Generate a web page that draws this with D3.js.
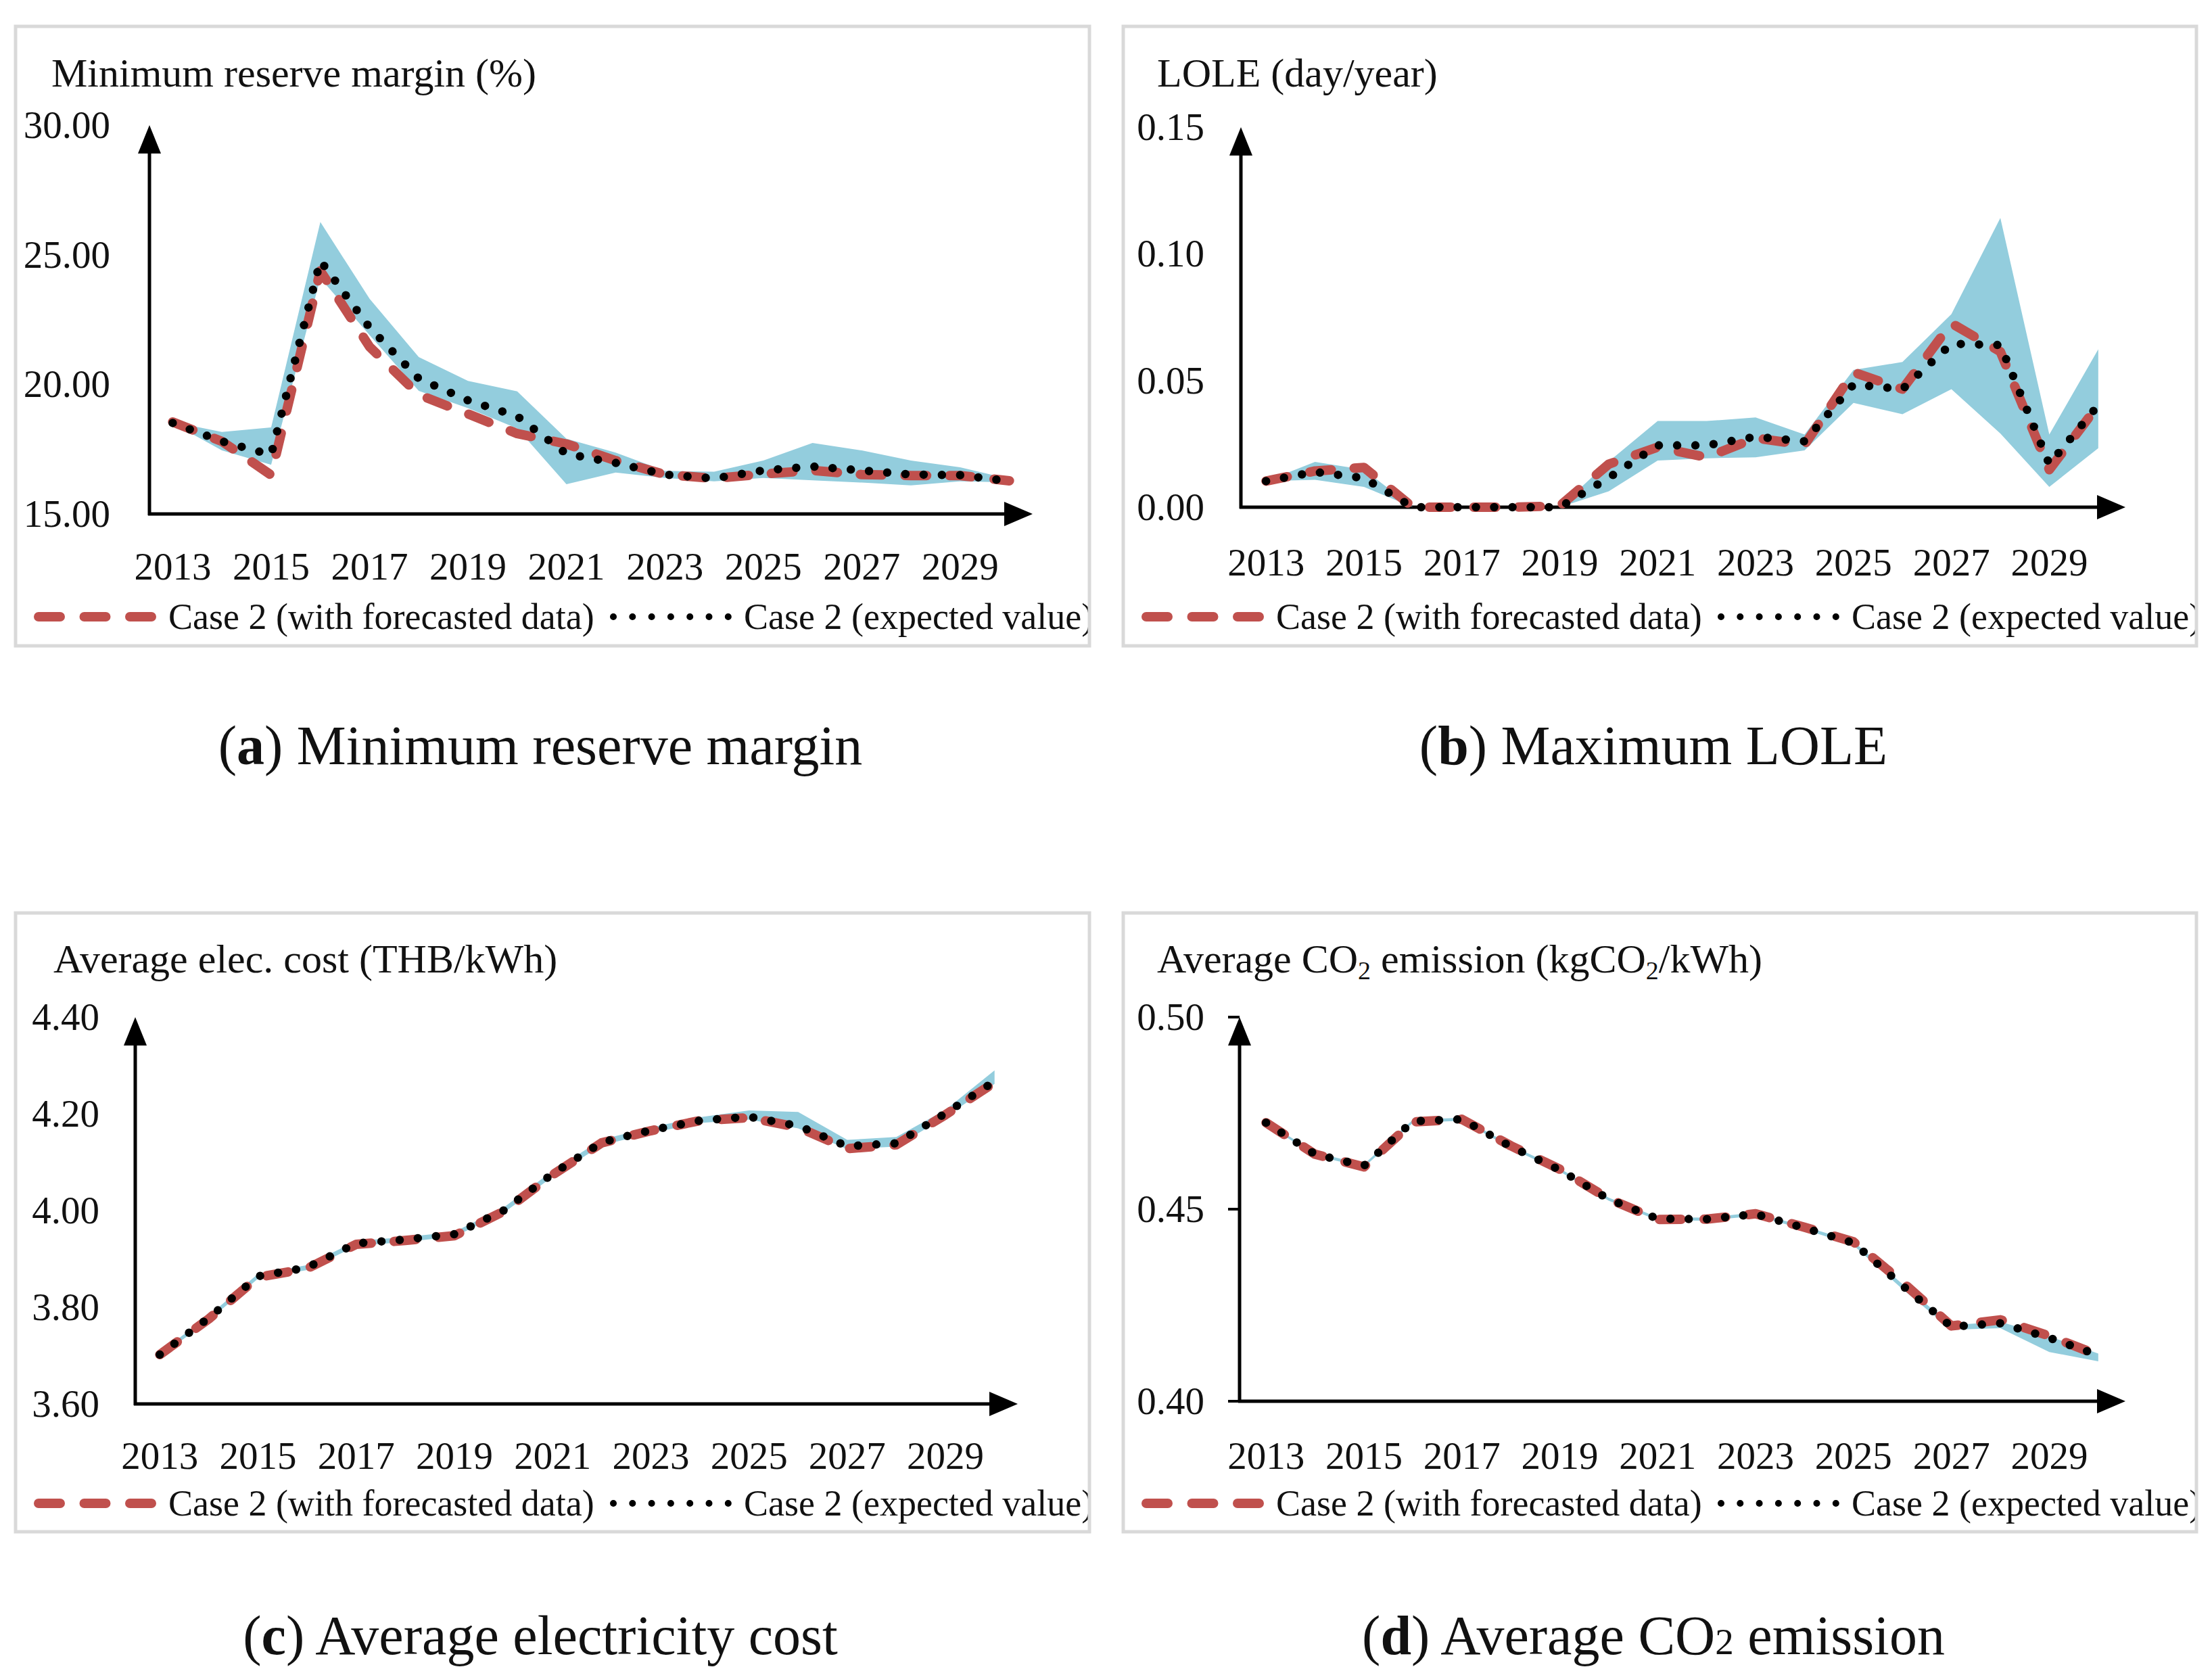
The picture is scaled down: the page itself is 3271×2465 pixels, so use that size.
<!DOCTYPE html>
<html>
<head>
<meta charset="utf-8">
<script src="https://cdn.jsdelivr.net/npm/d3@7"></script>
<style>
  body { margin: 0; background: #fff; }
  text { font-family: "Liberation Serif", "Times New Roman", serif; fill: #111; }
</style>
</head>
<body>
<svg id="chart" width="3271" height="2465"></svg>
<script>
// years on the category axis
const years = d3.range(2013, 2031);
const yearLabels = [2013, 2015, 2017, 2019, 2021, 2023, 2025, 2027, 2029];

// (a) minimum reserve margin (%)
const forecastA = [18.55, 17.80, 16.50, 24.38, 21.45, 19.60, 18.86, 18.10, 17.70, 17.06, 16.52, 16.37, 16.54, 16.68, 16.52, 16.48, 16.48, 16.28];
const expectedA = [18.51, 17.80, 17.28, 24.77, 22.19, 20.22, 19.38, 18.77, 17.32, 16.97, 16.52, 16.37, 16.68, 16.83, 16.68, 16.52, 16.50, 16.26];
const upperA    = [18.55, 18.16, 18.34, 26.26, 23.30, 21.05, 20.13, 19.73, 17.90, 17.37, 16.66, 16.63, 17.06, 17.74, 17.45, 17.06, 16.80, 16.35];
const lowerA    = [18.50, 17.45, 16.90, 24.10, 21.90, 19.75, 19.08, 18.30, 16.15, 16.60, 16.39, 16.26, 16.39, 16.30, 16.21, 16.10, 16.26, 16.22];
const ticksA = [15, 20, 25, 30];

// (b) LOLE (day/year)
const forecastB = [0.0103, 0.0143, 0.0157, 0.0000, 0.0000, 0.0000, 0.0005, 0.0170, 0.0237, 0.0197, 0.0273, 0.0246, 0.0533, 0.0466, 0.0726, 0.0614, 0.0148, 0.0403];
const expectedB = [0.0103, 0.0139, 0.0115, 0.0000, 0.0000, 0.0000, 0.0000, 0.0116, 0.0244, 0.0244, 0.0278, 0.0260, 0.0484, 0.0466, 0.0645, 0.0640, 0.0170, 0.0403];
const upperB    = [0.0103, 0.0179, 0.0148, 0.0000, 0.0000, 0.0000, 0.0000, 0.0180, 0.0340, 0.0340, 0.0354, 0.0287, 0.0542, 0.0573, 0.0762, 0.1142, 0.0287, 0.0623];
const lowerB    = [0.0103, 0.0108, 0.0080, 0.0000, 0.0000, 0.0000, 0.0000, 0.0063, 0.0184, 0.0193, 0.0197, 0.0224, 0.0412, 0.0367, 0.0466, 0.0291, 0.0080, 0.0233];
const ticksB = [0, 0.05, 0.10, 0.15];

// (c) average electricity cost (THB/kWh)
const forecastC = [3.702, 3.776, 3.862, 3.880, 3.930, 3.938, 3.948, 3.998, 4.074, 4.140, 4.165, 4.186, 4.192, 4.172, 4.128, 4.136, 4.198, 4.265];
const expectedC = [3.702, 3.778, 3.864, 3.882, 3.932, 3.940, 3.951, 4.000, 4.076, 4.141, 4.166, 4.186, 4.194, 4.175, 4.133, 4.139, 4.201, 4.267];
const upperC    = [3.706, 3.783, 3.869, 3.887, 3.937, 3.945, 3.956, 4.006, 4.082, 4.147, 4.172, 4.193, 4.207, 4.204, 4.146, 4.152, 4.208, 4.290];
const lowerC    = [3.698, 3.773, 3.859, 3.877, 3.927, 3.935, 3.946, 3.995, 4.070, 4.135, 4.160, 4.181, 4.188, 4.170, 4.127, 4.132, 4.194, 4.262];
const ticksC = [3.6, 3.8, 4.0, 4.2, 4.4];

// (d) average CO2 emission (kgCO2/kWh)
const forecastD = [0.4725, 0.4643, 0.4610, 0.4727, 0.4734, 0.4665, 0.4604, 0.4527, 0.4473, 0.4474, 0.4488, 0.4453, 0.4415, 0.4310, 0.4196, 0.4212, 0.4170, 0.4120];
const expectedD = [0.4725, 0.4643, 0.4613, 0.4729, 0.4734, 0.4663, 0.4602, 0.4526, 0.4475, 0.4474, 0.4487, 0.4451, 0.4412, 0.4301, 0.4194, 0.4203, 0.4165, 0.4120];
const upperD    = [0.4728, 0.4647, 0.4617, 0.4733, 0.4738, 0.4667, 0.4606, 0.4530, 0.4479, 0.4478, 0.4491, 0.4455, 0.4416, 0.4305, 0.4198, 0.4207, 0.4169, 0.4124];
const lowerD    = [0.4722, 0.4639, 0.4609, 0.4725, 0.4730, 0.4659, 0.4598, 0.4522, 0.4471, 0.4470, 0.4483, 0.4447, 0.4406, 0.4292, 0.4186, 0.4190, 0.4128, 0.4104];
const ticksD = [0.40, 0.45, 0.50];

const legendLabels = ['Case 2 (with forecasted data)', 'Case 2 (expected value)'];

const RED = '#C0504D';
const BAND = '#93CDDD';

// layout of the four panels
const panels = [
  { id: 'a', frame: [23, 39, 1588, 916], xr: [219, 1529], yr: [760, 185], axisX: 221, tip: 1527,
    labelRight: 163, title: [76, 128], xBase: 857, legY: 912, tickMarks: false,
    domain: [15, 30], ticks: ticksA, f: forecastA, e: expectedA, hi: upperA, lo: lowerA },
  { id: 'b', frame: [1661, 39, 1587, 916], xr: [1836, 3139], yr: [750, 188], axisX: 1835, tip: 3143,
    labelRight: 1781, title: [1711, 128], xBase: 851, legY: 912, tickMarks: false,
    domain: [0, 0.15], ticks: ticksB, f: forecastB, e: expectedB, hi: upperB, lo: lowerB },
  { id: 'c', frame: [23, 1350, 1588, 915], xr: [200, 1507], yr: [2076, 1504], axisX: 200, tip: 1505,
    labelRight: 147, title: [79, 1438], xBase: 2172, legY: 2223, tickMarks: false,
    domain: [3.6, 4.4], ticks: ticksC, f: forecastC, e: expectedC, hi: upperC, lo: lowerC },
  { id: 'd', frame: [1661, 1350, 1587, 915], xr: [1836, 3139], yr: [2072, 1504], axisX: 1833, tip: 3143,
    labelRight: 1781, title: [1711, 1438], xBase: 2172, legY: 2223, tickMarks: true,
    domain: [0.40, 0.50], ticks: ticksD, f: forecastD, e: expectedD, hi: upperD, lo: lowerD }
];

const svg = d3.select('#chart');
svg.append('rect').attr('width', 3271).attr('height', 2465).attr('fill', '#fff');
const defs = svg.append('defs');

const titleParts = {
  a: [['Minimum reserve margin (%)', 0]],
  b: [['LOLE (day/year)', 0]],
  c: [['Average elec. cost (THB/kWh)', 0]],
  d: [['Average CO', 0], ['2', 1], [' emission (kgCO', 0], ['2', 1], ['/kWh)', 0]]
};

panels.forEach(p => {
  const [fx, fy, fw, fh] = p.frame;
  defs.append('clipPath').attr('id', 'clip-' + p.id)
    .append('rect').attr('x', fx).attr('y', fy).attr('width', fw).attr('height', fh);

  const g = svg.append('g').attr('clip-path', `url(#clip-${p.id})`);

  const x = d3.scalePoint().domain(years).range(p.xr).padding(0.5);
  const y = d3.scaleLinear().domain(p.domain).range(p.yr);
  const y0 = y(p.domain[0]);
  const yTop = y(p.domain[1]);

  // title (with optional subscripts)
  const t = g.append('text').attr('x', p.title[0]).attr('y', p.title[1]).attr('font-size', 60);
  let prevSub = 0;
  titleParts[p.id].forEach(([s, sub]) => {
    t.append('tspan').text(s)
      .attr('font-size', sub ? 38 : 60)
      .attr('dy', sub ? 10 : (prevSub ? -10 : 0));
    prevSub = sub;
  });

  // y tick labels
  g.selectAll('.ylab').data(p.ticks).join('text')
    .attr('x', p.labelRight).attr('y', d => y(d) + 19)
    .attr('text-anchor', 'end').attr('font-size', 57)
    .text(d => d3.format('.2f')(d));

  if (p.tickMarks) {
    g.selectAll('.ytick').data(p.ticks).join('line')
      .attr('x1', p.axisX - 17).attr('x2', p.axisX)
      .attr('y1', d => y(d)).attr('y2', d => y(d))
      .attr('stroke', '#000').attr('stroke-width', 4);
  }

  // x tick labels
  g.selectAll('.xlab').data(yearLabels).join('text')
    .attr('x', d => x(d)).attr('y', p.xBase)
    .attr('text-anchor', 'middle').attr('font-size', 57)
    .text(d => d);

  // axes with arrow heads
  g.append('line').attr('x1', p.axisX).attr('x2', p.axisX)
    .attr('y1', y0 + 2).attr('y2', yTop + 30)
    .attr('stroke', '#000').attr('stroke-width', 5);
  g.append('path')
    .attr('d', `M${p.axisX},${yTop} L${p.axisX - 17},${yTop + 42} L${p.axisX + 17},${yTop + 42} Z`)
    .attr('fill', '#000');
  g.append('line').attr('x1', p.axisX - 2).attr('x2', p.tip - 30)
    .attr('y1', y0).attr('y2', y0)
    .attr('stroke', '#000').attr('stroke-width', 5);
  g.append('path')
    .attr('d', `M${p.tip},${y0} L${p.tip - 42},${y0 - 18} L${p.tip - 42},${y0 + 18} Z`)
    .attr('fill', '#000');

  // range band
  const area = d3.area()
    .x((d, i) => x(years[i]))
    .y0((d, i) => y(p.lo[i]))
    .y1((d, i) => y(p.hi[i]));
  g.append('path').datum(p.hi).attr('d', area).attr('fill', BAND);

  const line = d3.line().x((d, i) => x(years[i])).y(d => y(d));

  g.append('path').datum(p.f).attr('d', line)
    .attr('fill', 'none').attr('stroke', RED).attr('stroke-width', 14)
    .attr('stroke-linecap', 'round').attr('stroke-linejoin', 'round')
    .attr('stroke-dasharray', '32 34');

  g.append('path').datum(p.e).attr('d', line)
    .attr('fill', 'none').attr('stroke', '#000').attr('stroke-width', 12.5)
    .attr('stroke-linecap', 'round').attr('stroke-dasharray', '0 27');

  // legend
  const ly = p.legY;
  g.append('line').attr('x1', fx + 34).attr('x2', fx + 201).attr('y1', ly).attr('y2', ly)
    .attr('stroke', RED).attr('stroke-width', 14).attr('stroke-linecap', 'round')
    .attr('stroke-dasharray', '32 35.5');
  g.append('text').attr('x', fx + 226).attr('y', ly + 18).attr('font-size', 54).text(legendLabels[0]);
  g.append('line').attr('x1', fx + 884).attr('x2', fx + 1054).attr('y1', ly).attr('y2', ly)
    .attr('stroke', '#000').attr('stroke-width', 10).attr('stroke-linecap', 'round')
    .attr('stroke-dasharray', '0 28.3');
  g.append('text').attr('x', fx + 1077).attr('y', ly + 18).attr('font-size', 54).text(legendLabels[1]);

  // frame
  svg.append('rect').attr('x', fx).attr('y', fy).attr('width', fw).attr('height', fh)
    .attr('fill', 'none').attr('stroke', '#D9D9D9').attr('stroke-width', 5);
});

// captions
const captions = [
  { x: 799, y: 1130, letter: 'a', parts: [[' Minimum reserve margin', 0]] },
  { x: 2445, y: 1130, letter: 'b', parts: [[' Maximum LOLE', 0]] },
  { x: 799, y: 2446, letter: 'c', parts: [[' Average electricity cost', 0]] },
  { x: 2445, y: 2446, letter: 'd', parts: [[' Average CO', 0], ['2', 1], [' emission', 0]] }
];
captions.forEach(c => {
  const t = svg.append('text').attr('x', c.x).attr('y', c.y)
    .attr('text-anchor', 'middle').attr('font-size', 82);
  t.append('tspan').text('(');
  t.append('tspan').text(c.letter).attr('font-weight', 'bold');
  t.append('tspan').text(')');
  c.parts.forEach(([s, sub]) => {
    t.append('tspan').text(s).attr('font-size', sub ? 55 : 82);
  });
});
</script>
</body>
</html>
